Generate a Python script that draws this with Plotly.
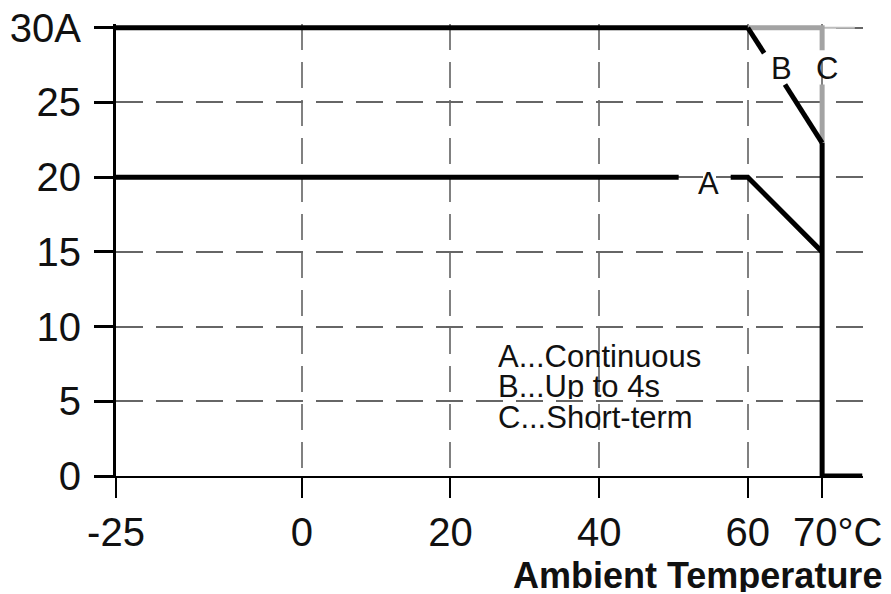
import plotly.graph_objects as go

# ---- data ----
x_tickvals = [-25, 0, 20, 40, 60, 70]
x_ticktext = ["-25", "0", "20", "40", "60", "70°C"]
y_tickvals = [0, 5, 10, 15, 20, 25, 30]
y_ticktext = ["0", "5", "10", "15", "20", "25", "30A"]

top_x = [-25, 60]
top_y = [30, 30]

curve_a_x = [-25, 50.7, None, 57.7, 60, 70]
curve_a_y = [20, 20, None, 20, 20, 15]

curve_b_x = [60, 62.2, None, 65.0, 70]
curve_b_y = [30, 28.3, None, 26.2, 22.3]

curve_c_x = [60, 70, 70, None, 70, 70]
curve_c_y = [30, 30, 28.5, None, 26.2, 22.3]

grid30_x = [70, 74.4]
grid30_y = [30, 30]

drop_x = [70, 70, 75.4]
drop_y = [22.3, 0, 0]

curve_labels = ["A", "B", "C"]
curve_label_x = [54.7, 64.5, 70.7]
curve_label_y = [19.6, 27.3, 27.3]

legend_lines = ["A...Continuous", "B...Up to 4s", "C...Short-term"]
legend_y = [8.0, 6.0, 3.9]
legend_x = 26.3

FONT = "Liberation Sans, Arial, sans-serif"
BLACK = "#000000"
GRAY = "#a3a3a3"
TICK_SIZE = 40

fig = go.Figure()

def add_line(xs, ys, color, width):
    fig.add_trace(go.Scatter(x=xs, y=ys, mode="lines",
                             line=dict(color=color, width=width),
                             cliponaxis=False, hoverinfo="skip",
                             showlegend=False))

add_line(grid30_x, grid30_y, "#bdbdbd", 2)
add_line(curve_c_x, curve_c_y, GRAY, 5)
add_line(top_x, top_y, BLACK, 5)
add_line(curve_b_x, curve_b_y, BLACK, 5)
add_line(curve_a_x, curve_a_y, BLACK, 5)
add_line(drop_x, drop_y, BLACK, 5)

for t, xv, yv in zip(curve_labels, curve_label_x, curve_label_y):
    fig.add_annotation(x=xv, y=yv, text=t, showarrow=False,
                       xanchor="center", yanchor="middle",
                       font=dict(family=FONT, size=31, color="#111"))

for t, yv in zip(legend_lines, legend_y):
    fig.add_annotation(x=legend_x, y=yv, text=t, showarrow=False,
                       xanchor="left", yanchor="middle", height=25,
                       borderpad=0, valign="middle",
                       font=dict(family=FONT, size=31, color="#111"))

# last x tick label ("70°C") sits offset to the right of its tick, as in the reference
shown_ticktext = x_ticktext[:-1] + [""]
fig.add_annotation(x=x_tickvals[-1], xref="x", yref="paper", y=0,
                   text=x_ticktext[-1], showarrow=False,
                   xanchor="left", yanchor="middle", xshift=-31, yshift=-56,
                   font=dict(family=FONT, size=TICK_SIZE, color="#111"))

fig.add_annotation(xref="paper", yref="paper", x=1, y=0,
                   xshift=21, yshift=-99, xanchor="right", yanchor="middle",
                   height=34, valign="middle",
                   text="<b>Ambient Temperature</b>", showarrow=False,
                   font=dict(family=FONT, size=36, color="#111"))

fig.update_xaxes(range=[-25, 75.5], tickvals=x_tickvals, ticktext=shown_ticktext,
                 tickangle=0, automargin=False,
                 ticks="outside", ticklen=20, tickwidth=2, tickcolor=BLACK,
                 showline=True, linecolor=BLACK, linewidth=2,
                 showgrid=True, gridcolor="#808080", gridwidth=2,
                 griddash="26px,12px", zeroline=False,
                 tickfont=dict(family=FONT, size=TICK_SIZE, color="#111"))
fig.update_yaxes(range=[0, 30.25], tickvals=y_tickvals, ticktext=y_ticktext,
                 automargin=False,
                 ticks="outside", ticklen=19, tickwidth=3, tickcolor=BLACK,
                 showline=True, linecolor=BLACK, linewidth=3,
                 showgrid=True, gridcolor="#666666", gridwidth=1.5,
                 griddash="27px,13px", zeroline=False,
                 ticklabelstandoff=5,
                 tickfont=dict(family=FONT, size=TICK_SIZE, color="#111"))

fig.update_layout(width=891, height=594,
                  margin=dict(l=116, r=891 - 863, t=24, b=118),
                  paper_bgcolor="white", plot_bgcolor="white",
                  showlegend=False)

fig.write_html("out.html", config={"displayModeBar": False},
               post_script="document.body.style.margin='0';")
